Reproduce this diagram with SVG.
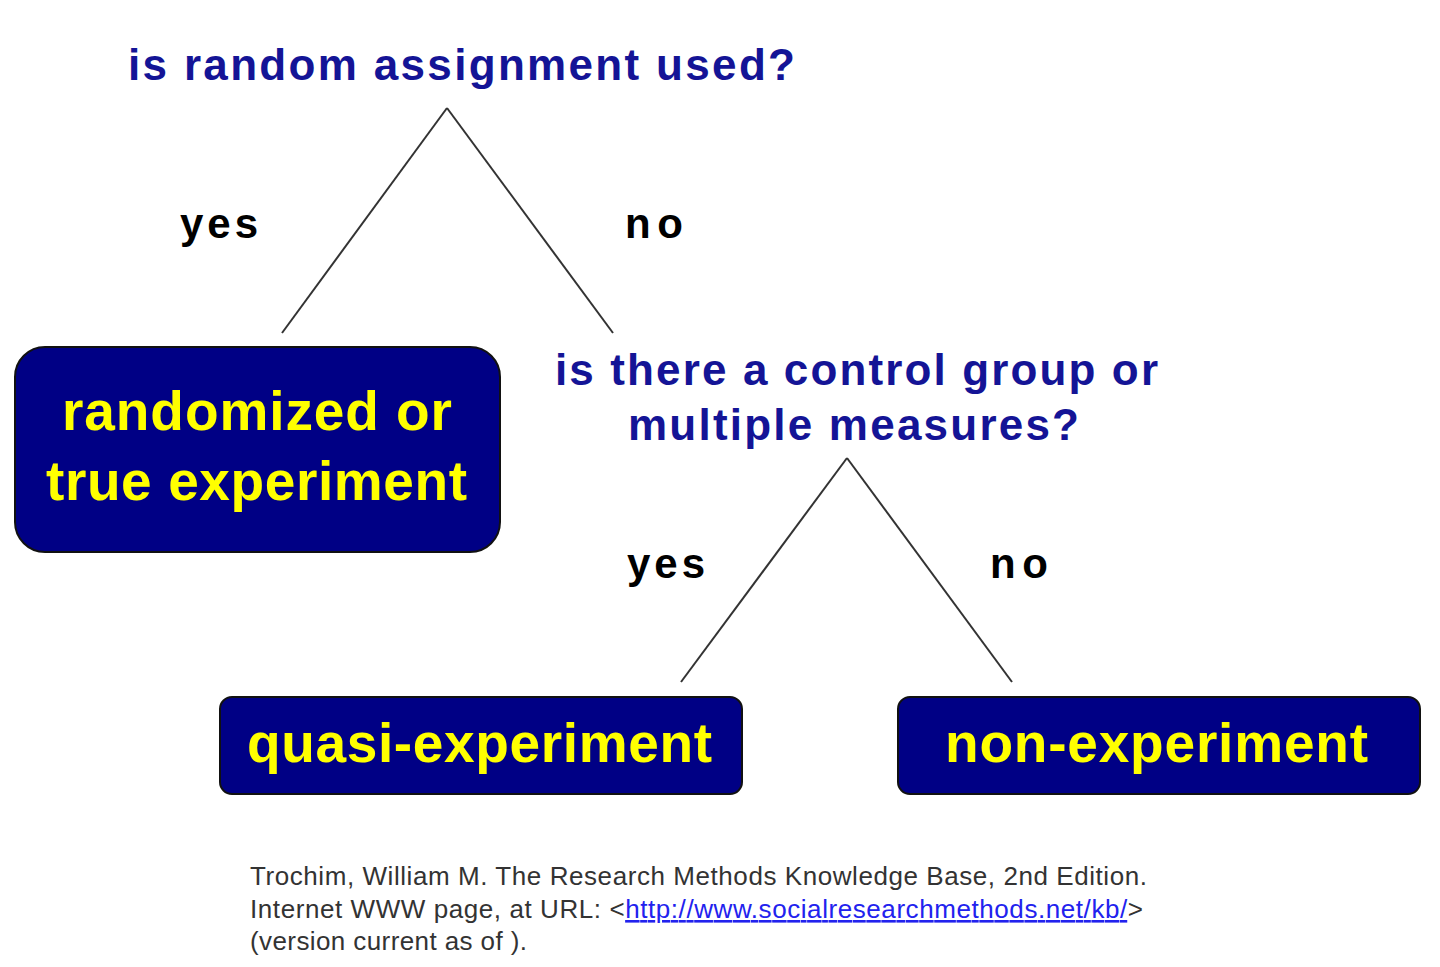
<svg xmlns="http://www.w3.org/2000/svg" width="1440" height="967" viewBox="0 0 1440 967">
<style>
.q{font-family:"Liberation Sans",Arial,sans-serif;font-weight:bold;fill:#141496;font-size:44px}
.l{font-family:"Liberation Sans",Arial,sans-serif;font-weight:bold;fill:#000;font-size:42px}
.box{fill:#000085;stroke:#111;stroke-width:2}
.bt{font-family:"Liberation Sans",Arial,sans-serif;font-weight:bold;fill:#ffff00;font-size:55px}
.c{font-family:"Liberation Sans",Arial,sans-serif;fill:#333;font-size:26px}
line{stroke:#333;stroke-width:2}
</style>
<rect width="1440" height="967" fill="#fff"/>
<g id="connectors">
<line x1="447" y1="108" x2="282" y2="333"/>
<line x1="447" y1="108" x2="613" y2="333"/>
<line x1="847" y1="458" x2="681" y2="682"/>
<line x1="847" y1="458" x2="1012" y2="682"/>
</g>
<g id="q1"><text class="q" x="128" y="80" textLength="667">is random assignment used?</text></g>
<g id="labels1"><text class="l" x="180" y="238" textLength="78">yes</text><text class="l" x="625" y="238" textLength="58">no</text></g>
<g id="n1"><rect class="box" x="15" y="347" width="485" height="205" rx="30"/>
<text class="bt" x="62" y="430" textLength="390">randomized or</text><text class="bt" x="46" y="500" textLength="421">true experiment</text></g>
<g id="q2"><text class="q" x="555" y="385" textLength="603">is there a control group or</text>
<text class="q" x="628" y="440" textLength="451">multiple measures?</text></g>
<g id="labels2"><text class="l" x="627" y="578" textLength="78">yes</text><text class="l" x="990" y="578" textLength="58">no</text></g>
<g id="n2"><rect class="box" x="220" y="697" width="522" height="97" rx="12"/>
<text class="bt" x="247" y="762" textLength="465">quasi-experiment</text></g>
<g id="n3"><rect class="box" x="898" y="697" width="522" height="97" rx="12"/>
<text class="bt" x="945" y="762" textLength="423">non-experiment</text></g>
<g id="citation">
<text class="c" x="250" y="885" textLength="897">Trochim, William M. The Research Methods Knowledge Base, 2nd Edition.</text>
<text class="c" x="250" y="918" textLength="893">Internet WWW page, at URL: &lt;<tspan fill="#2222ee" text-decoration="underline">http://www.socialresearchmethods.net/kb/</tspan>&gt;</text>
<text class="c" x="250" y="950" textLength="277">(version current as of ).</text>
</g>
</svg>
